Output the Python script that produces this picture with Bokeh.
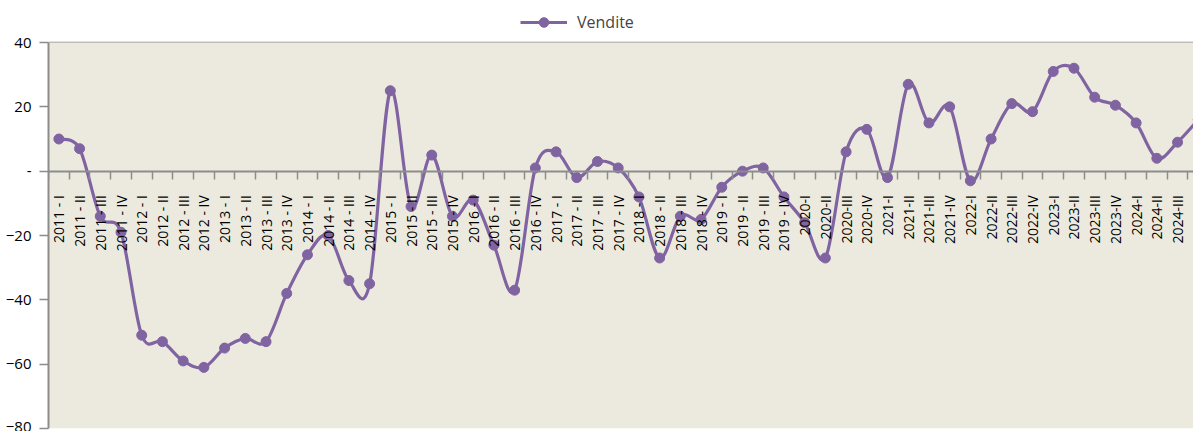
from bokeh.plotting import figure
from bokeh.models import Range1d, FixedTicker, Legend, LegendItem, ColumnDataSource, BoxAnnotation
from bokeh.embed import file_html
from bokeh.resources import INLINE
import math

quarters = ["2011 - I", "2011 - II", "2011 - III", "2011 - IV",
            "2012 - I", "2012 - II", "2012 - III", "2012 - IV",
            "2013 - I", "2013 - II", "2013 - III", "2013 - IV",
            "2014 - I", "2014 - II", "2014 - III", "2014 - IV",
            "2015 - I", "2015 - II", "2015 - III", "2015 - IV",
            "2016 - I", "2016 - II", "2016 - III", "2016 - IV",
            "2017 - I", "2017 - II", "2017 - III", "2017 - IV",
            "2018 - I", "2018 - II", "2018 - III", "2018 - IV",
            "2019 - I", "2019 - II", "2019 - III", "2019 - IV",
            "2020-I", "2020-II", "2020-III", "2020-IV",
            "2021-I", "2021-II", "2021-III", "2021-IV",
            "2022-I", "2022-II", "2022-III", "2022-IV",
            "2023-I", "2023-II", "2023-III", "2023-IV",
            "2024-I", "2024-II", "2024-III", "2024-IV"]

vendite = [10, 7, -14, -19,
           -51, -53, -59, -61,
           -55, -52, -53, -38,
           -26, -20, -34, -35,
           25, -11, 5, -14,
           -9, -23, -37, 1,
           6, -2, 3, 1,
           -8, -27, -14, -15,
           -5, 0, 1, -8,
           -16, -27, 6, 13,
           -2, 27, 15, 20,
           -3, 10, 21, 18.5,
           31, 32, 23, 20.5,
           15, 4, 9, 16]

y_ticks = [-80, -60, -40, -20, 0, 20, 40]

PURPLE = "#8064A2"
GRID = "#8C8C8C"
BEIGE = "#ECEADF"
FONT = "Open Sans"

n = len(quarters)
xs = [i + 0.5 for i in range(n)]

# Smoothed line (Excel-style cubic Bezier through the points)
x0, y0, x1, y1, cx0, cy0, cx1, cy1 = [], [], [], [], [], [], [], []
for i in range(n - 1):
    pm = (xs[max(i - 1, 0)], vendite[max(i - 1, 0)])
    p0 = (xs[i], vendite[i])
    p1 = (xs[i + 1], vendite[i + 1])
    pp = (xs[min(i + 2, n - 1)], vendite[min(i + 2, n - 1)])
    x0.append(p0[0]); y0.append(p0[1]); x1.append(p1[0]); y1.append(p1[1])
    cx0.append(p0[0] + (p1[0] - pm[0]) / 6.0)
    cy0.append(p0[1] + (p1[1] - pm[1]) / 6.0)
    cx1.append(p1[0] - (pp[0] - p0[0]) / 6.0)
    cy1.append(p1[1] - (pp[1] - p0[1]) / 6.0)

bez_src = ColumnDataSource(dict(x0=x0, y0=y0, x1=x1, y1=y1, cx0=cx0, cy0=cy0, cx1=cx1, cy1=cy1))
pts_src = ColumnDataSource(dict(x=xs, y=vendite))

ymin, ymax = y_ticks[0], y_ticks[-1]
p = figure(width=1193, height=431, output_backend="svg", toolbar_location=None,
           x_range=Range1d(0, 55.27), y_range=Range1d(ymin, ymax + 13.06),
           min_border_left=48, min_border_right=0, min_border_top=0, min_border_bottom=3)
p.background_fill_color = "white"
p.border_fill_color = "white"
p.outline_line_color = None

p.add_layout(BoxAnnotation(bottom=ymin, top=ymax, fill_color=BEIGE, fill_alpha=1,
                           line_color=None, level="underlay"))

bez = p.bezier(x0="x0", y0="y0", x1="x1", y1="y1", cx0="cx0", cy0="cy0", cx1="cx1", cy1="cy1",
               source=bez_src, line_color=PURPLE, line_width=3.2)
sc = p.scatter(x="x", y="y", source=pts_src, size=10, marker="circle",
               fill_color=PURPLE, line_color=PURPLE)

# x axis crossing at zero
xa = p.xaxis[0]
xa.fixed_location = 0
xa.ticker = FixedTicker(ticks=xs, minor_ticks=list(range(0, n + 1)))
xa.major_label_overrides = {x: q for x, q in zip(xs, quarters)}
xa.major_label_orientation = math.pi / 2
xa.major_tick_out = 0
xa.major_tick_in = 0
xa.minor_tick_out = 8
xa.minor_tick_in = 0
xa.minor_tick_line_color = GRID
xa.minor_tick_line_width = 1.5
xa.axis_line_color = GRID
xa.axis_line_width = 2
xa.major_label_standoff = 16
xa.major_label_text_font = FONT
xa.major_label_text_font_size = "14px"
xa.major_label_text_color = "black"

ya = p.yaxis[0]
ya.ticker = FixedTicker(ticks=y_ticks)
ya.bounds = (ymin, ymax)
ya.major_label_overrides = {0: "-"}
ya.axis_line_color = GRID
ya.axis_line_width = 2
ya.major_tick_out = 9
ya.major_tick_in = 0
ya.major_tick_line_color = GRID
ya.major_tick_line_width = 1.5
ya.minor_tick_line_color = None
ya.major_label_standoff = 8
ya.major_label_text_font = FONT
ya.major_label_text_font_size = "15px"
ya.major_label_text_color = "black"

p.xgrid.visible = False
p.ygrid.ticker = FixedTicker(ticks=y_ticks)
p.ygrid.grid_line_color = GRID
p.ygrid.grid_line_width = 1.5

legend = Legend(items=[LegendItem(label="Vendite", renderers=[bez, sc])],
                location=(472, 394), orientation="horizontal",
                padding=0, margin=0, glyph_width=47, glyph_height=24, label_height=16,
                label_standoff=10, label_text_font=FONT, label_text_font_size="16px",
                background_fill_alpha=0, border_line_color=None)
p.add_layout(legend)

open("out.html", "w").write(file_html(p, INLINE))
